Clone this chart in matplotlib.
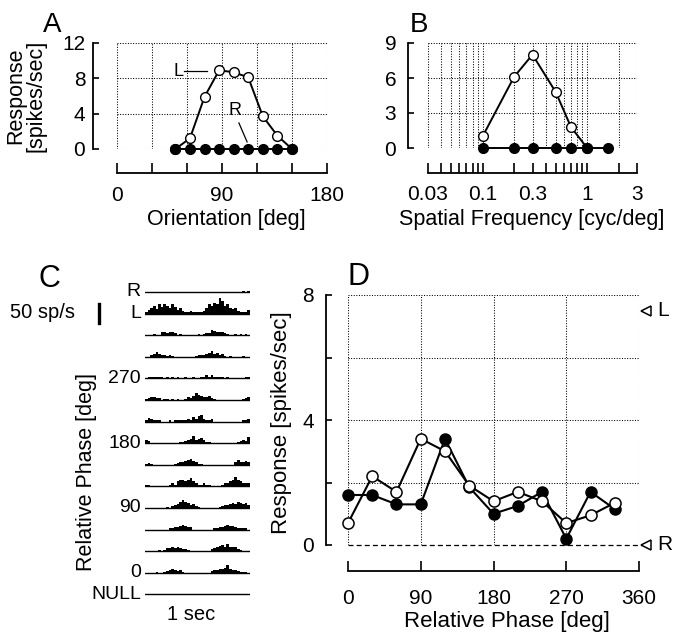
import numpy as np
import matplotlib
matplotlib.use("Agg")
import matplotlib.pyplot as plt
from matplotlib.ticker import NullFormatter

plt.rcParams['font.family'] = ['Liberation Sans', 'DejaVu Sans']

#------------------------------------------------------------------------------
#--- (0) Data
#------------------------------------------------------------------------------
# A: orientation tuning (open = L eye, filled = R eye)
orient_deg = [50, 62.5, 75, 87.5, 100, 112.5, 125, 137.5, 150]
orient_L = [0, 1.2, 5.9, 8.9, 8.7, 8.1, 3.7, 1.5, 0]
orient_R = [0, 0, 0, 0, 0, 0, 0, 0, 0]

# B: spatial frequency tuning
sf_L_x = [0.1, 0.2, 0.3, 0.5, 0.7, 1.0]
sf_L = [1.0, 6.1, 8.0, 4.8, 1.8, 0]
sf_R_x = [0.1, 0.2, 0.3, 0.5, 0.7, 1.0, 1.6]
sf_R = [0, 0, 0, 0, 0, 0, 0]

# D: response vs relative phase
phase_deg = [0, 30, 60, 90, 120, 150, 180, 210, 240, 270, 300, 330]
phase_open = [0.7, 2.2, 1.7, 3.4, 3.0, 1.9, 1.4, 1.7, 1.4, 0.7, 0.95, 1.35]
phase_filled = [1.6, 1.6, 1.3, 1.3, 3.4, 1.85, 1.0, 1.25, 1.7, 0.2, 1.7, 1.15]
level_L = 7.5   # monocular L response (arrow)
level_R = 0.0   # monocular R response (arrow)

# C: PSTHs, 40 bins over 1 sec, spikes/sec
psth_R = [0] * 36 + [0, 3, 0, 3]
psth_L = [5, 10, 16, 21, 13, 24, 18, 26, 21, 16, 24, 18, 10, 16, 8, 3, 5, 8, 5, 5,
          3, 5, 8, 16, 24, 21, 29, 26, 42, 32, 21, 24, 16, 13, 16, 8, 5, 5, 3, 10]
psth_330 = [0, 0, 0, 3, 0, 0, 8, 8, 5, 8, 8, 5, 0, 3, 0, 0, 0, 0, 0, 0,
            3, 0, 3, 5, 5, 13, 10, 8, 8, 8, 5, 3, 0, 0, 3, 0, 3, 0, 3, 0]
psth_300 = [0, 0, 5, 8, 13, 8, 5, 5, 3, 5, 3, 0, 0, 0, 0, 0, 0, 0, 0, 3,
            5, 5, 5, 8, 10, 16, 8, 10, 5, 8, 3, 0, 3, 0, 0, 0, 0, 3, 0, 0]
psth_270 = [0, 3, 3, 5, 3, 5, 3, 0, 3, 0, 3, 0, 3, 0, 0, 3, 0, 0, 3, 0,
            0, 3, 5, 8, 5, 8, 3, 5, 3, 5, 0, 3, 0, 0, 0, 0, 0, 0, 3, 5]
psth_240 = [3, 5, 8, 8, 5, 5, 0, 3, 3, 0, 3, 0, 3, 0, 0, 3, 8, 5, 10, 18,
            13, 10, 8, 8, 10, 5, 3, 0, 0, 0, 0, 0, 0, 0, 0, 0, 0, 3, 5, 8]
psth_210 = [5, 10, 8, 5, 3, 3, 0, 0, 0, 3, 0, 3, 3, 3, 5, 3, 8, 5, 13, 8,
            16, 18, 8, 5, 3, 8, 0, 0, 0, 0, 0, 0, 0, 0, 0, 0, 0, 3, 5, 8]
psth_180 = [8, 5, 0, 0, 0, 0, 0, 0, 0, 0, 0, 0, 0, 3, 3, 5, 8, 10, 18, 8,
            10, 13, 8, 3, 3, 0, 0, 0, 0, 0, 0, 0, 0, 0, 0, 3, 5, 8, 5, 16]
psth_150 = [3, 5, 3, 0, 0, 0, 0, 0, 0, 0, 0, 3, 5, 8, 8, 10, 13, 16, 10, 8,
            3, 3, 0, 0, 0, 0, 0, 0, 0, 0, 0, 0, 0, 0, 8, 13, 8, 8, 10, 8]
psth_120 = [5, 3, 0, 0, 0, 0, 0, 0, 0, 5, 8, 5, 13, 18, 16, 13, 18, 21, 13, 10,
            3, 5, 8, 3, 3, 0, 0, 0, 0, 3, 8, 10, 13, 16, 24, 18, 13, 10, 8, 8]
psth_90 = [0, 0, 0, 0, 0, 0, 0, 0, 3, 0, 5, 8, 10, 16, 21, 16, 13, 8, 10, 5,
           3, 0, 0, 0, 0, 0, 0, 0, 3, 5, 8, 8, 10, 13, 10, 16, 13, 10, 13, 8]
psth_60 = [0, 0, 0, 0, 0, 0, 0, 0, 0, 3, 5, 8, 8, 10, 13, 10, 8, 8, 0, 0,
           0, 0, 0, 0, 0, 0, 3, 5, 8, 8, 10, 13, 10, 10, 8, 5, 5, 3, 3, 0]
psth_30 = [0, 0, 0, 0, 0, 3, 0, 3, 8, 8, 10, 8, 10, 8, 5, 5, 3, 0, 0, 0,
           0, 0, 0, 0, 0, 5, 8, 10, 13, 16, 10, 18, 10, 10, 10, 5, 3, 0, 0, 0]
psth_0 = [0, 0, 0, 0, 3, 0, 0, 3, 5, 8, 10, 8, 5, 8, 3, 0, 0, 0, 0, 0,
          0, 0, 0, 0, 0, 5, 8, 8, 10, 10, 13, 21, 10, 8, 8, 5, 3, 3, 3, 0]
psth_null = [0] * 40

psth_rows = [psth_R, psth_L, psth_330, psth_300, psth_270, psth_240, psth_210,
             psth_180, psth_150, psth_120, psth_90, psth_60, psth_30, psth_0, psth_null]
psth_labels = ["R", "L", "", "", "270", "", "", "180", "", "", "90", "", "", "0", "NULL"]

#------------------------------------------------------------------------------
#--- (1) Figure helpers (positions in pixels of the 679x632 figure)
#------------------------------------------------------------------------------
W, H = 679, 632
fig = plt.figure(figsize=(W / 100, H / 100), dpi=100)

def px_axes(x0, y0, x1, y1):
    return fig.add_axes([x0 / W, 1 - y1 / H, (x1 - x0) / W, (y1 - y0) / H])

def px_text(x, y, s, **kw):
    fig.text(x / W, 1 - y / H, s, **kw)

GRID = dict(color='k', linestyle=(0, (1, 1.5)), linewidth=0.75)
TICK_FS = 15
LABEL_FS = 15.5
LETTER_FS = 20
MS_AB = 7.0     # marker size panels A, B
MS_D = 8.0      # marker size panel D

def detach_frame(ax, left_off, bottom_off, xbounds, ybounds, xpad, ypad):
    # offset L-shaped axes as in the original figure
    ax.spines['top'].set_visible(False)
    ax.spines['right'].set_visible(False)
    ax.spines['left'].set_position(('outward', left_off * 0.72))
    ax.spines['bottom'].set_position(('outward', bottom_off * 0.72))
    ax.spines['left'].set_bounds(*ybounds)
    ax.spines['bottom'].set_bounds(*xbounds)
    for s in ('left', 'bottom'):
        ax.spines[s].set_linewidth(1.3)
    ax.tick_params(axis='x', which='both', direction='in', length=7.5, width=1.2,
                   pad=xpad, labelsize=TICK_FS)
    ax.tick_params(axis='y', which='both', direction='in', length=4.5, width=1.2,
                   pad=ypad, labelsize=TICK_FS)

#------------------------------------------------------------------------------
#--- (2) Panel A: orientation
#------------------------------------------------------------------------------
ax_a = px_axes(117, 43, 327, 149)
ax_a.plot(orient_deg, orient_L, '-o', color='k', mfc='white', mec='k', ms=MS_AB,
          mew=1.0, lw=1.4, clip_on=False, zorder=3)
ax_a.plot(orient_deg, orient_R, '-o', color='k', mfc='k', mec='k', ms=MS_AB,
          lw=1.4, clip_on=False, zorder=4)
ax_a.set_xlim(0, 180)
ax_a.set_ylim(0, 12)
ax_a.set_xticks([0, 90, 180])
ax_a.set_xticks([30, 60, 120, 150], minor=True)
ax_a.set_yticks([0, 4, 8, 12])
ax_a.grid(True, which='both', **GRID)
detach_frame(ax_a, 24, 24, (0, 180), (0, 12), 9.5, 5.5)
ax_a.plot([57.5, 77], [8.85, 8.85], color='k', lw=0.9)
ax_a.text(53, 8.75, "L", fontsize=13, ha='center', va='center')
ax_a.plot([104.5, 111.5], [2.95, 0.8], color='k', lw=0.9)
ax_a.text(101, 4.4, "R", fontsize=13, ha='center', va='center')

px_text(43, 32, "A", fontsize=LETTER_FS, va='baseline', ha='left')
px_text(26, 96, "Response\n[spikes/sec]", fontsize=LABEL_FS, rotation=90,
        ha='center', va='center', linespacing=0.95)
px_text(226, 219, "Orientation [deg]", fontsize=LABEL_FS, ha='center', va='center')

#------------------------------------------------------------------------------
#--- (3) Panel B: spatial frequency (log axis)
#------------------------------------------------------------------------------
ax_b = px_axes(428, 43, 637, 148)
ax_b.plot(sf_L_x, sf_L, '-o', color='k', mfc='white', mec='k', ms=MS_AB,
          mew=1.0, lw=1.4, clip_on=False, zorder=3)
ax_b.plot(sf_R_x, sf_R, '-o', color='k', mfc='k', mec='k', ms=MS_AB,
          lw=1.4, clip_on=False, zorder=4)
ax_b.set_xscale('log')
ax_b.set_xlim(0.03, 3)
ax_b.set_ylim(0, 9)
ax_b.set_xticks([0.03, 0.1, 0.3, 1, 3])
ax_b.set_xticklabels(["0.03", "0.1", "0.3", "1", "3"])
ax_b.set_xticks([0.04, 0.05, 0.06, 0.07, 0.08, 0.09, 0.2, 0.4, 0.5, 0.6,
                 0.7, 0.8, 0.9, 2], minor=True)
ax_b.xaxis.set_minor_formatter(NullFormatter())
ax_b.set_yticks([0, 3, 6, 9])
ax_b.grid(True, which='both', **GRID)
detach_frame(ax_b, 20, 25, (0.03, 3), (0, 9), 8.5, 8.5)

px_text(410, 32, "B", fontsize=LETTER_FS, va='baseline', ha='left')
px_text(532, 219, "Spatial Frequency [cyc/deg]", fontsize=LABEL_FS, ha='center', va='center')

#------------------------------------------------------------------------------
#--- (4) Panel C: PSTHs stacked by relative phase
#------------------------------------------------------------------------------
ax_c = px_axes(145, 270, 250, 600)
ax_c.set_xlim(0, 1)
ax_c.set_ylim(600, 270)     # y in figure pixels, downwards
ax_c.axis('off')
PX_PER_SPS = 19 / 50        # 50 sp/s scale bar = 19 px
edges = np.linspace(0, 1, 41)
for i, (rates, lab) in enumerate(zip(psth_rows, psth_labels)):
    base = 292 + i * 21.6
    h = np.array(rates + [rates[-1]], dtype=float) * PX_PER_SPS
    ax_c.fill_between(edges, base, base - h, step='post', color='k', lw=0, zorder=2)
    ax_c.plot([0, 1], [base, base], color='k', lw=1.0, zorder=3)
    if lab:
        ax_c.text(-0.04, base, lab, fontsize=14, ha='right', va='center')

# scale bar
ax_c.plot([-0.44, -0.44], [323, 323 - 50 * PX_PER_SPS], color='k', lw=2.4, clip_on=False)
ax_c.text(-1.29, 313, "50 sp/s", fontsize=14.5, ha='left', va='center')
ax_c.text(0.44, 615, "1 sec", fontsize=14.5, ha='center', va='center')

px_text(38, 287, "C", fontsize=LETTER_FS + 2, va='baseline', ha='left')
px_text(87, 472, "Relative Phase [deg]", fontsize=LABEL_FS, rotation=90, ha='center', va='center')

#------------------------------------------------------------------------------
#--- (5) Panel D: response vs relative phase
#------------------------------------------------------------------------------
ax_d = px_axes(348, 295, 639, 545)
ax_d.set_xlim(0, 360)
ax_d.set_ylim(0, 8)
for v in [0, 90, 180, 270, 360]:
    ax_d.axvline(v, **GRID)
for v in [2, 4, 6, 8]:
    ax_d.axhline(v, **GRID)
ax_d.plot([0, 366], [0, 0], color='k', lw=0.9, ls=(0, (4, 2.5)), clip_on=False)

ax_d.plot(phase_deg, phase_filled, '-o', color='k', mfc='k', mec='k', ms=MS_D,
          lw=1.5, clip_on=False, zorder=3)
ax_d.plot(phase_deg, phase_open, '-o', color='k', mfc='white', mec='k', ms=MS_D,
          mew=1.1, lw=1.5, clip_on=False, zorder=4)

# monocular levels
ax_d.plot([368.5], [level_L], marker='<', ms=7.5, mfc='white', mec='k', mew=1.1, clip_on=False)
ax_d.text(382, level_L, "L", fontsize=15, ha='left', va='center')
ax_d.plot([368.5], [level_R], marker='<', ms=7.5, mfc='white', mec='k', mew=1.1, clip_on=False)
ax_d.text(382, level_R, "R", fontsize=15, ha='left', va='center')

ax_d.set_xticks([0, 90, 180, 270, 360])
ax_d.set_yticks([0, 4, 8])
ax_d.set_yticks([2, 6], minor=True)
detach_frame(ax_d, 22, 26, (0, 360), (0, 8), 13, 8.5)

px_text(347, 285, "D", fontsize=LETTER_FS + 2, va='baseline', ha='left')
px_text(282, 423, "Response [spikes/sec]", fontsize=16, rotation=90, ha='center', va='center')
px_text(507, 621, "Relative Phase [deg]", fontsize=16, ha='center', va='center')

fig.savefig("out.png", dpi=100)
